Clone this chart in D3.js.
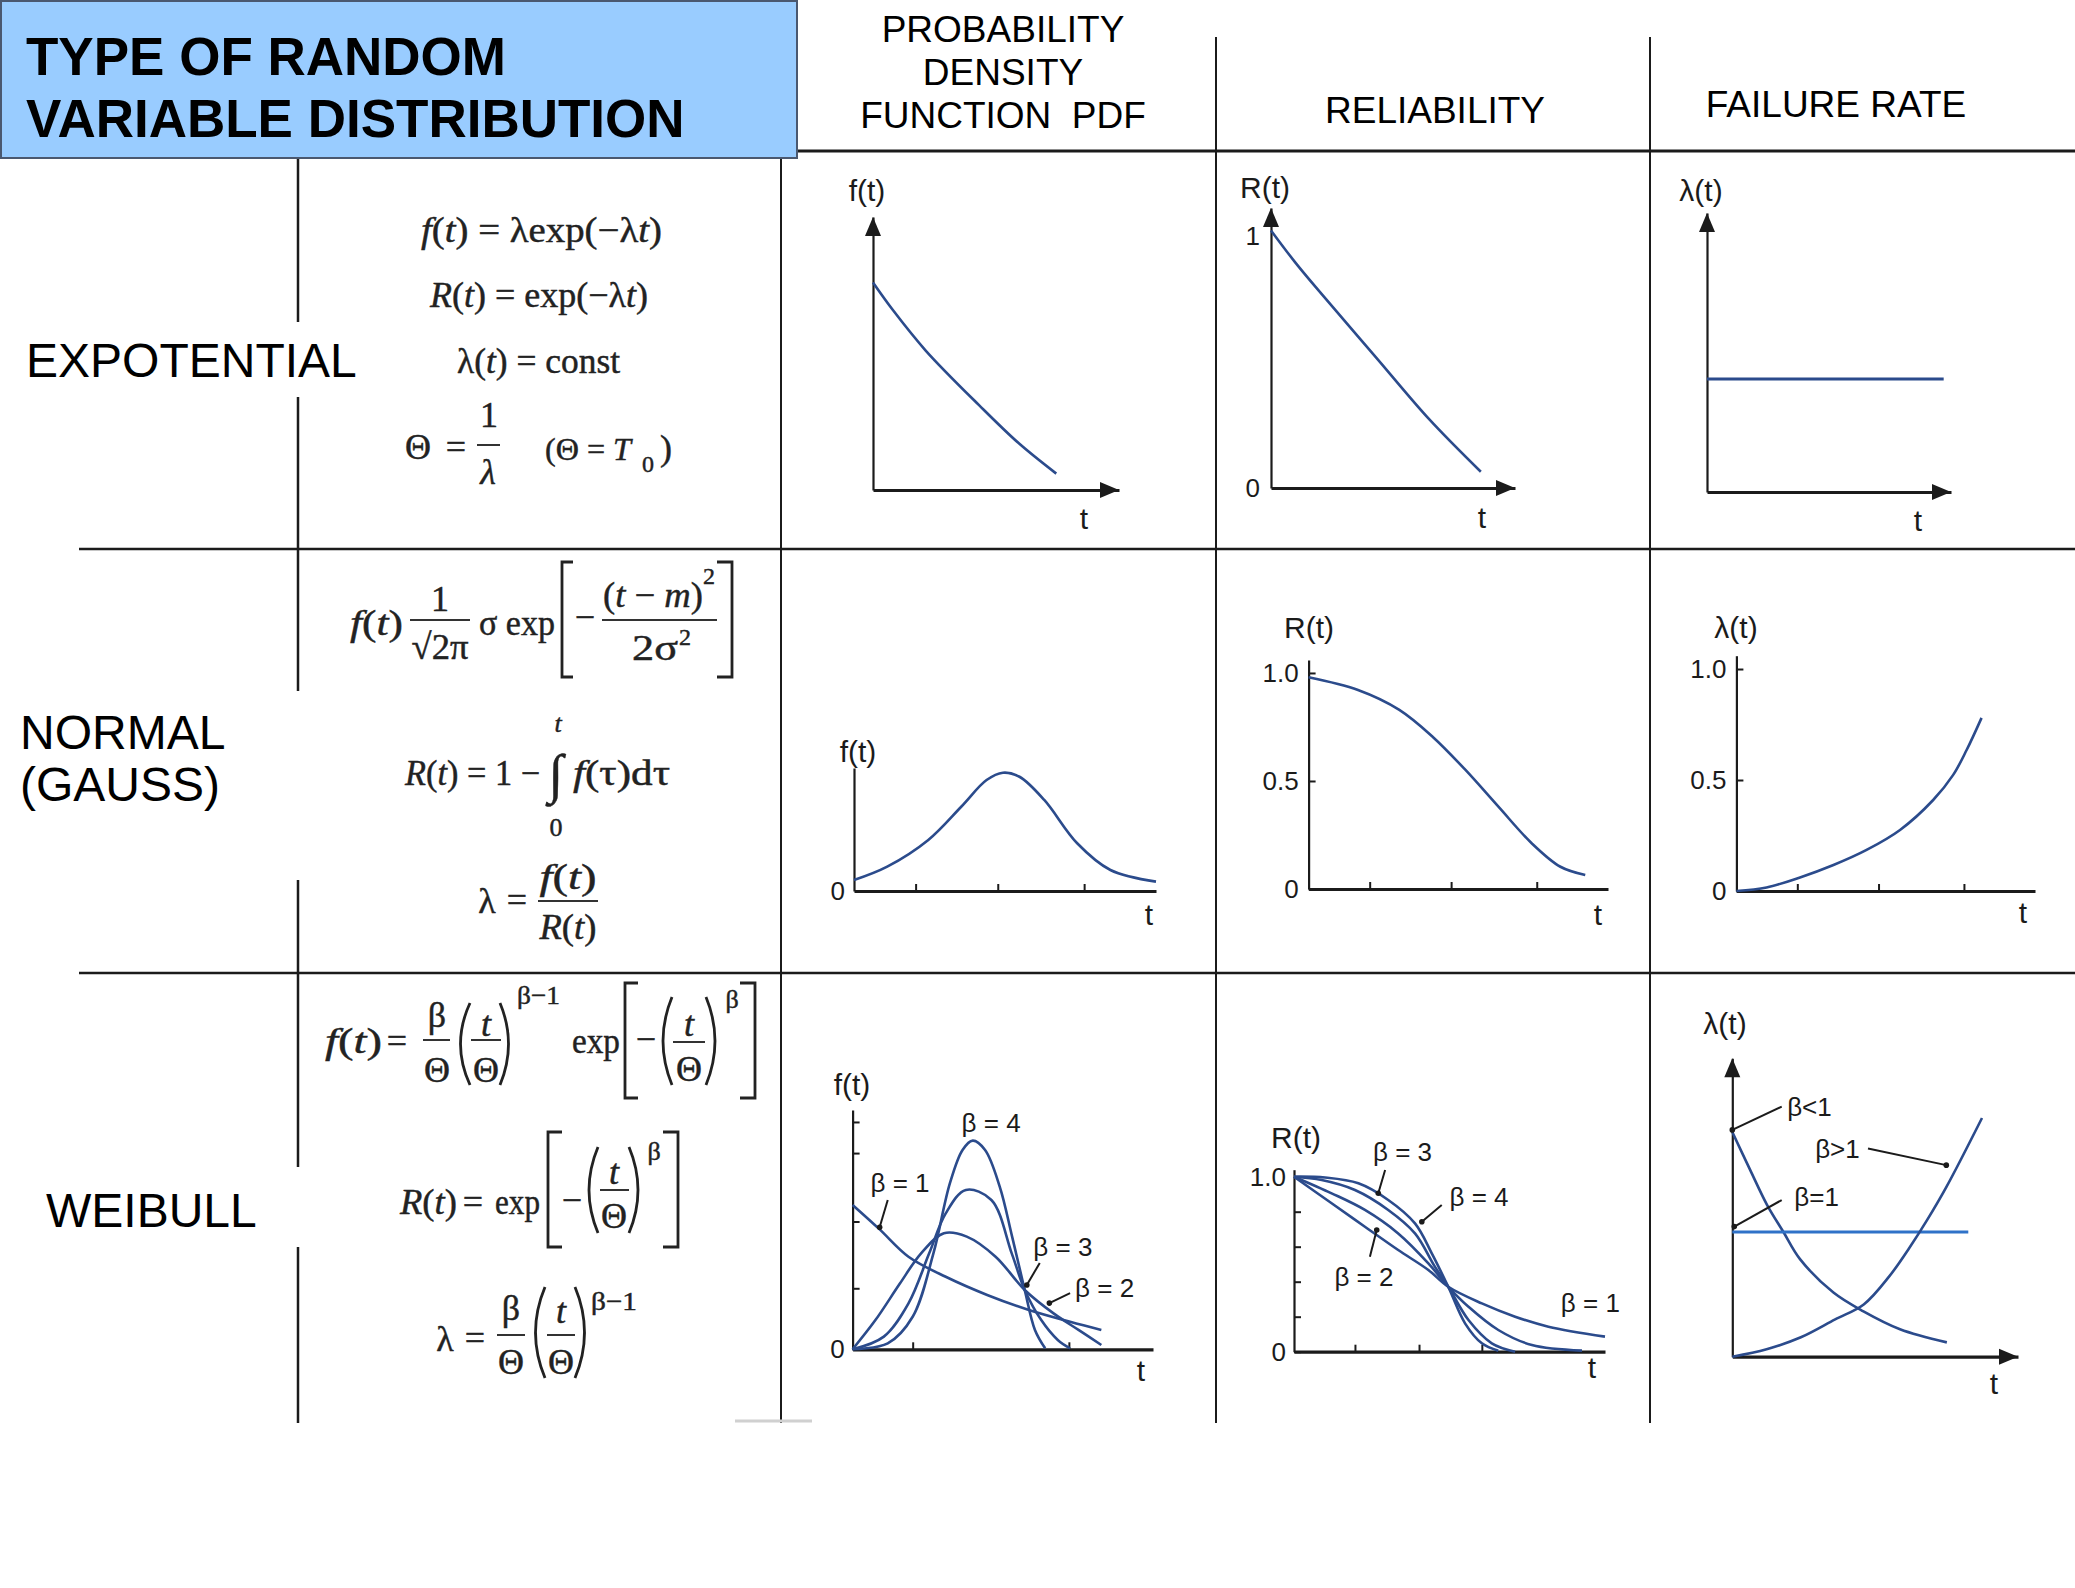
<!DOCTYPE html>
<html>
<head>
<meta charset="utf-8">
<script src="https://cdn.jsdelivr.net/npm/d3@7"></script>
<style>
  body { margin: 0; background: #fff; }
  svg { display: block; }
</style>
</head>
<body>
<svg id="chart"></svg>
<script>
// ---- text content ----
const titleLines = ["TYPE OF RANDOM", "VARIABLE DISTRIBUTION"];
const pdfHeader = ["PROBABILITY", "DENSITY", "FUNCTION  PDF"];
const relHeader = "RELIABILITY";
const rateHeader = "FAILURE RATE";
const rowNames = [["EXPOTENTIAL"], ["NORMAL", "(GAUSS)"], ["WEIBULL"]];

// ---- curve values (x = % of time axis) ----
// exponential row (y = % of value axis)
const expPdf = [[0, 76], [8, 66], [21.5, 51], [43.2, 31], [59.4, 17], [74.5, 6]];
const expRel = [[0, 92], [10, 80.5], [21.5, 68.5], [43.2, 46.5], [64.9, 24.5], [86, 5.8]];
const expRate = [[0, 40.5], [97, 40.5]];
const expRelTicks = [0, 90];
const expRelLabels = ["0", "1"];

// normal row (reliability and failure rate on a 0..1 scale)
const normPdf = [[0, 8.9], [11, 19.8], [24.6, 41.5], [35.5, 68.5], [43.9, 90.2], [49.3, 96.2],
                 [54.8, 92.9], [63, 74], [73.9, 38.8], [84.9, 17.1], [100, 7.6]];
const normRel = [[0, 0.98], [16.5, 0.921], [30.3, 0.829], [41.4, 0.705], [52.4, 0.551],
                 [63.4, 0.381], [74.5, 0.212], [84.1, 0.103], [92.4, 0.065]];
const normRate = [[0, 0], [10.1, 0.016], [21.3, 0.061], [32.5, 0.117], [43.6, 0.185], [54.8, 0.275],
                  [65.9, 0.41], [72.6, 0.523], [77.1, 0.635], [82.1, 0.78]];
const normTimeTicks = [20.4, 47.6, 76.2];
const unitTicks = [0, 0.5, 1.0];
const unitLabels = ["0", "0.5", "1.0"];

// weibull row
const weiPdf1 = [[0, 60.3], [9, 50.1], [18.6, 38.7], [31, 30.3], [44.8, 22.7], [58.7, 16.4], [72.4, 11.5], [82.8, 8.1]];
const weiPdf2 = [[0, 0], [7.6, 12.2], [15.8, 27.6], [22.8, 40.1], [30.4, 48.5], [38, 47.1], [47.6, 38.7],
                 [57.3, 24.8], [66.9, 15], [75.2, 8.1], [82.8, 1.8]];
const weiPdf3 = [[0, 0], [10.4, 5.3], [18.6, 19.2], [25.5, 40.1], [31, 56.8], [37.7, 66.6], [46.2, 62.4],
                 [53, 40], [57.3, 24.8], [62.8, 12.2], [68.3, 3.9], [72.4, 0.4]];
const weiPdf4 = [[0, 0], [11.7, 2.5], [20, 13.6], [26.9, 40.1], [32.4, 69.4], [36.6, 83.3], [40, 87.2],
                 [44.1, 83.3], [49, 67.9], [53.1, 47.1], [57.3, 24.8], [60.7, 8.1], [64.1, 0.4]];
const weiPdfYTicks = [25.5, 53.4, 82, 95];
const weiPdfXTicks = [20, 72];

const weiRel1 = [[0, 1], [12.1, 0.848], [22.8, 0.714], [33.5, 0.581], [43.2, 0.467], [49.6, 0.371],
                 [60.4, 0.276], [71.1, 0.2], [81.8, 0.143], [100, 0.086]];
const weiRel2 = [[0, 1], [12.1, 0.905], [22.8, 0.81], [33.5, 0.676], [43.2, 0.505], [49.6, 0.371],
                 [56.1, 0.257], [65.7, 0.124], [76.5, 0.038], [92.6, 0.006]];
const weiRel3 = [[0, 1], [8.9, 0.981], [19.6, 0.924], [30.3, 0.81], [38.9, 0.676], [45.3, 0.486],
                 [49.6, 0.371], [56.1, 0.181], [63.6, 0.048], [71.1, 0]];
const weiRel4 = [[0, 1], [10, 0.995], [20.7, 0.962], [30.3, 0.867], [38.9, 0.733], [44.3, 0.562],
                 [49.6, 0.371], [55, 0.162], [60.4, 0.048], [65.7, 0.006]];
const weiRelYTicks = [0, 0.2, 0.4, 0.6, 0.8, 1.0];
const weiRelYLabels = ["0", "", "", "", "", "1.0"];
const weiRelXTicks = [19.6, 40.2, 60.4];

const weiRateLow = [[0, 75.3], [6.2, 62.7], [12.1, 51], [17.9, 41.8], [23.7, 32.7], [35.4, 21.5],
                    [45.9, 15.2], [58.7, 9.2], [75.1, 4.8]];
const weiRateOne = [[0, 41.8], [82.6, 41.8]];
const weiRateHigh = [[0, 0], [12, 2.5], [24, 6.5], [36, 12.5], [46, 17.5], [55, 27], [62, 36.5],
                     [68, 45.5], [75, 57], [87.4, 80]];

// ---- page ----
const W = 2075, H = 1588;
const ink = "#1b1b1b", navy = "#2b4b8c", brightBlue = "#2f72c8";
const sans = "'Liberation Sans', Arial, sans-serif";
const serif = "'Liberation Serif', 'Times New Roman', serif";

const svg = d3.select("#chart").attr("width", W).attr("height", H);
svg.append("rect").attr("width", W).attr("height", H).attr("fill", "#fff");

// table rules
const rules = [
  [797, 151, 2075, 151, 3], [1216, 37, 1216, 1423, 2], [1650, 37, 1650, 1423, 2],
  [781, 159, 781, 1423, 2], [79, 549, 2075, 549, 2.5], [79, 973, 2075, 973, 2.5],
  [298, 159, 298, 322, 2.5], [298, 397, 298, 691, 2.5], [298, 880, 298, 1167, 2.5], [298, 1247, 298, 1423, 2.5]
];
svg.append("g").selectAll("line").data(rules).join("line")
  .attr("x1", d => d[0]).attr("y1", d => d[1]).attr("x2", d => d[2]).attr("y2", d => d[3])
  .attr("stroke", ink).attr("stroke-width", d => d[4]);
svg.append("line").attr("x1", 735).attr("x2", 812).attr("y1", 1421).attr("y2", 1421)
  .attr("stroke", "#d0d0d0").attr("stroke-width", 3);

// header box
svg.append("rect").attr("x", 1).attr("y", 1).attr("width", 796).attr("height", 157)
  .attr("fill", "#99ccff").attr("stroke", "#4a5870").attr("stroke-width", 2);
svg.append("g").selectAll("text").data(titleLines).join("text")
  .attr("x", 26).attr("y", (d, i) => 75 + i * 61.5)
  .attr("font-family", sans).attr("font-weight", "bold").attr("font-size", 53).attr("fill", "#000")
  .text(d => d);

const head = svg.append("g").attr("font-family", sans).attr("font-size", 37).attr("fill", "#000")
  .attr("text-anchor", "middle");
head.selectAll("text.pdf").data(pdfHeader).join("text").attr("class", "pdf")
  .attr("x", 1003).attr("y", (d, i) => 41.5 + i * 43.4).attr("xml:space", "preserve").text(d => d);
head.append("text").attr("x", 1435).attr("y", 123).text(relHeader);
head.append("text").attr("x", 1836).attr("y", 117).text(rateHeader);

// row names
const rowPos = [[[26, 377]], [[20, 749], [20, 801]], [[46, 1227]]];
const rows = svg.append("g").attr("font-family", sans).attr("font-size", 48).attr("fill", "#000");
rowNames.forEach((lines, r) => lines.forEach((s, i) => {
  rows.append("text").attr("x", rowPos[r][i][0]).attr("y", rowPos[r][i][1]).text(s);
}));

// ---- formulas ----
const fx = svg.append("g").attr("font-family", serif).attr("fill", "#222")
  .attr("stroke", "#222").attr("stroke-width", 0.45);
// "_x_" marks italic runs
function t(x, y, str, o = {}) {
  const el = fx.append("text").attr("x", x).attr("y", y)
    .attr("font-size", o.size || 36).attr("text-anchor", o.anchor || "start")
    .attr("xml:space", "preserve");
  str.split("_").forEach((part, i) => {
    if (part) el.append("tspan").attr("font-style", i % 2 ? "italic" : "normal").text(part);
  });
  if (o.len) el.attr("textLength", o.len).attr("lengthAdjust", "spacingAndGlyphs");
}
function bar(x1, x2, y) {
  fx.append("line").attr("x1", x1).attr("x2", x2).attr("y1", y).attr("y2", y)
    .attr("stroke", "#333").attr("stroke-width", 2);
}
function delim(kind, x0, x1, top, bot) {
  const m = (top + bot) / 2;
  const d = {
    "[": `M${x1},${top}H${x0}V${bot}H${x1}`,
    "]": `M${x0},${top}H${x1}V${bot}H${x0}`,
    "(": `M${x1},${top}Q${x0 - 4},${m} ${x1},${bot}`,
    ")": `M${x0},${top}Q${x1 + 4},${m} ${x0},${bot}`
  }[kind];
  fx.append("path").attr("d", d).attr("fill", "none").attr("stroke", "#222").attr("stroke-width", 2.8);
}
const mid = { anchor: "middle" };

// exponential
t(421, 242, "_f_(_t_) = λexp(−λ_t_)", { len: 241 });
t(430, 307, "_R_(_t_) = exp(−λ_t_)", { len: 218 });
t(457, 373, "λ(_t_) = const", { len: 163 });
t(418, 459, "Θ", mid); t(456, 459, "=", mid);
t(489, 427, "1", mid); bar(477, 500, 445); t(488, 484, "_λ_", mid);
t(545, 460, "(Θ = _T_", { len: 86, size: 32 }); t(648, 472, "0", { anchor: "middle", size: 24 }); t(666, 460, ")", mid);

// normal
t(350, 635, "_f_(_t_)", { len: 53 });
t(440, 611, "1", mid); bar(410, 470, 620); t(440, 659, "√2π", { anchor: "middle", len: 57 });
t(479, 635, "σ exp", { len: 76 });
delim("[", 562, 573, 562, 677);
t(585, 629, "−", mid);
t(603, 607, "(_t_ − _m_)", { len: 100 }); t(709, 584, "2", { anchor: "middle", size: 24 });
bar(602, 717, 620);
t(632, 660, "2σ", { len: 46 }); t(685, 645, "2", { anchor: "middle", size: 24 });
delim("]", 717, 732, 562, 677);
t(405, 785, "_R_(_t_) = 1 −", { len: 135 });
t(556, 792, "∫", { anchor: "middle", size: 54 });
t(558, 732, "_t_", { anchor: "middle", size: 26 });
t(556, 836, "0", { anchor: "middle", size: 26 });
t(573, 785, "_f_(τ)dτ", { len: 97 });
t(487, 913, "λ", mid); t(517, 912, "=", mid);
t(568, 889, "_f_(_t_)", { anchor: "middle", len: 57 }); bar(538, 598, 901);
t(568, 939, "_R_(_t_)", { anchor: "middle", len: 57 });

// weibull
t(325, 1053, "_f_(_t_)", { len: 57 }); t(397, 1053, "=", mid);
t(437, 1027, "β", mid); bar(423, 450, 1040); t(437, 1082, "Θ", mid);
delim("(", 455, 470, 1003, 1085);
t(486, 1036, "_t_", mid); bar(471, 501, 1040); t(486, 1082, "Θ", mid);
delim(")", 500, 513, 1003, 1085);
t(517, 1004, "β−1", { size: 26, len: 43 });
t(572, 1053, "exp", { len: 48 });
delim("[", 625, 638, 983, 1098);
t(646, 1051, "−", mid);
delim("(", 658, 672, 997, 1085);
t(689, 1036, "_t_", mid); bar(673, 705, 1042); t(689, 1081, "Θ", mid);
delim(")", 706, 720, 997, 1085);
t(732, 1008, "β", { anchor: "middle", size: 26 });
delim("]", 740, 755, 983, 1098);

t(400, 1214, "_R_(_t_)", { len: 57 }); t(473, 1214, "=", mid);
t(495, 1214, "exp", { len: 45 });
delim("[", 548, 562, 1132, 1247);
t(572, 1212, "−", mid);
delim("(", 584, 598, 1147, 1233);
t(614, 1184, "_t_", mid); bar(600, 629, 1190); t(614, 1228, "Θ", mid);
delim(")", 629, 643, 1147, 1233);
t(654, 1160, "β", { anchor: "middle", size: 26 });
delim("]", 663, 678, 1132, 1247);

t(445, 1351, "λ", mid); t(475, 1350, "=", mid);
t(511, 1320, "β", mid); bar(497, 525, 1335); t(511, 1374, "Θ", mid);
delim("(", 530, 545, 1287, 1378);
t(561, 1323, "_t_", mid); bar(547, 575, 1335); t(561, 1374, "Θ", mid);
delim(")", 575, 590, 1287, 1378);
t(591, 1310, "β−1", { size: 26, len: 46 });

// ---- small plots ----
function drawPanel(p) {
  const x = d3.scaleLinear().domain(p.xDomain).range([p.ox, p.xEnd]);
  const y = d3.scaleLinear().domain(p.yDomain).range([p.oy, p.yEnd]);
  const g = svg.append("g");

  g.append("g").attr("transform", `translate(0,${p.oy})`)
    .call(d3.axisBottom(x).tickValues(p.xTicks || []).tickSize(-7).tickSizeOuter(0).tickFormat(""))
    .call(a => a.select(".domain").attr("stroke", ink).attr("stroke-width", p.xw || 3.2))
    .call(a => a.selectAll(".tick line").attr("stroke", ink).attr("stroke-width", 2));

  g.append("g").attr("transform", `translate(${p.ox},0)`)
    .call(d3.axisLeft(y).tickValues(p.yTicks || []).tickSize(p.yTickLen ?? -7).tickSizeOuter(0)
      .tickPadding(p.yPad || 9).tickFormat((d, i) => p.yLabels ? p.yLabels[i] : ""))
    .call(a => a.select(".domain").attr("stroke", ink).attr("stroke-width", 2.2))
    .call(a => a.selectAll(".tick line").attr("stroke", ink).attr("stroke-width", 2))
    .call(a => a.selectAll(".tick text").attr("font-family", sans).attr("font-size", 26).attr("fill", ink));

  if (p.arrows) {
    const xe = x(p.xDomain[1]), ye = y(p.yDomain[1]);
    g.append("path").attr("d", `M${xe},${p.oy}l-19,-8v16z`).attr("fill", ink);
    g.append("path").attr("d", `M${p.ox},${ye}l-8,19h16z`).attr("fill", ink);
  }

  p.series.forEach(s => {
    const line = d3.line().x(d => x(d[0])).y(d => y(d[1]))
      .curve(s.values.length > 2 ? d3.curveCatmullRom.alpha(0.5) : d3.curveLinear);
    g.append("path").datum(s.values).attr("d", line)
      .attr("fill", "none").attr("stroke", s.color || navy).attr("stroke-width", s.width || 2.6);
  });

  (p.notes || []).forEach(n => {
    if (n.leader) {
      g.append("line")
        .attr("x1", x(n.leader[0][0])).attr("y1", y(n.leader[0][1]))
        .attr("x2", x(n.leader[1][0])).attr("y2", y(n.leader[1][1]))
        .attr("stroke", ink).attr("stroke-width", 2);
      g.append("circle").attr("cx", x(n.leader[1][0])).attr("cy", y(n.leader[1][1]))
        .attr("r", 2.8).attr("fill", ink);
    }
    g.append("text").attr("x", x(n.at[0])).attr("y", y(n.at[1])).attr("dy", "0.35em")
      .attr("text-anchor", "middle").attr("font-family", sans).attr("font-size", 26)
      .attr("fill", ink).attr("xml:space", "preserve").text(n.text);
  });

  p.names.forEach(n => {
    g.append("text").attr("x", n[1]).attr("y", n[2]).attr("text-anchor", "middle")
      .attr("font-family", sans).attr("font-size", n[3] || 30).attr("fill", ink).text(n[0]);
  });
}

const pct = [0, 100];
const panels = [
  { ox: 873, oy: 490, xEnd: 1119, yEnd: 217, xDomain: pct, yDomain: pct, arrows: true,
    series: [{ values: expPdf }],
    names: [["f(t)", 867, 201], ["t", 1084, 529]] },
  { ox: 1271, oy: 488, xEnd: 1515, yEnd: 208, xDomain: pct, yDomain: pct, arrows: true,
    yTicks: expRelTicks, yLabels: expRelLabels, yTickLen: 0, yPad: 11,
    series: [{ values: expRel }],
    names: [["R(t)", 1265, 198], ["t", 1482, 528]] },
  { ox: 1707, oy: 492, xEnd: 1951, yEnd: 213, xDomain: pct, yDomain: pct, arrows: true,
    series: [{ values: expRate, width: 3.2 }],
    names: [["λ(t)", 1701, 201], ["t", 1918, 531]] },

  { ox: 854, oy: 891, xEnd: 1156, yEnd: 768, xDomain: pct, yDomain: pct,
    xTicks: normTimeTicks, yTicks: [0], yLabels: ["0"], yTickLen: 0, yPad: 9,
    series: [{ values: normPdf }],
    names: [["f(t)", 858, 762], ["t", 1149, 925]] },
  { ox: 1308.6, oy: 889, xEnd: 1608, yEnd: 660, xDomain: pct, yDomain: [0, 1.06],
    xTicks: normTimeTicks, yTicks: unitTicks, yLabels: unitLabels, yPad: 10,
    series: [{ values: normRel }],
    names: [["R(t)", 1309, 638], ["t", 1598, 925]] },
  { ox: 1736.4, oy: 891, xEnd: 2035, yEnd: 655.7, xDomain: pct, yDomain: [0, 1.06],
    xTicks: normTimeTicks, yTicks: unitTicks, yLabels: unitLabels, yPad: 10,
    series: [{ values: normRate }],
    names: [["λ(t)", 1736, 638], ["t", 2023, 923]] },

  { ox: 852.6, oy: 1349.3, xEnd: 1153, yEnd: 1110, xDomain: pct, yDomain: pct,
    xTicks: weiPdfXTicks, yTicks: [0].concat(weiPdfYTicks), yLabels: ["0", "", "", "", ""], yPad: 8,
    series: [{ values: weiPdf1 }, { values: weiPdf2 }, { values: weiPdf3 }, { values: weiPdf4 }],
    notes: [
      { text: "β = 4", at: [46.1, 94.6] },
      { text: "β = 1", at: [15.8, 69.4], leader: [[11.7, 62.4], [9.0, 51]] },
      { text: "β = 3", at: [70, 42.6], leader: [[62.3, 36.1], [58.0, 26.9]] },
      { text: "β = 2", at: [83.9, 25.6], leader: [[72.4, 23.5], [65.5, 19.3]] }
    ],
    names: [["f(t)", 852, 1095], ["t", 1141, 1381]] },
  { ox: 1294, oy: 1351.7, xEnd: 1605, yEnd: 1169.7, xDomain: pct, yDomain: [0, 1.04],
    xTicks: weiRelXTicks, yTicks: weiRelYTicks, yLabels: weiRelYLabels, yPad: 8,
    series: [{ values: weiRel1 }, { values: weiRel2 }, { values: weiRel3 }, { values: weiRel4 }],
    notes: [
      { text: "β = 3", at: [34.9, 1.143], leader: [[29.3, 1.038], [27.1, 0.905]] },
      { text: "β = 4", at: [59.5, 0.886], leader: [[47.5, 0.838], [41.1, 0.743]] },
      { text: "β = 2", at: [22.5, 0.429], leader: [[24.4, 0.543], [26.6, 0.695]] },
      { text: "β = 1", at: [95.3, 0.278] }
    ],
    names: [["R(t)", 1296, 1148], ["t", 1592, 1378]] },
  { ox: 1732.3, oy: 1356.7, xEnd: 2018, yEnd: 1058.3, xDomain: pct, yDomain: pct, arrows: true,
    series: [{ values: weiRateLow }, { values: weiRateOne, color: brightBlue, width: 3 }, { values: weiRateHigh }],
    notes: [
      { text: "β<1", at: [27.0, 83.8], leader: [[17.3, 83.8], [0, 76.0]] },
      { text: "β>1", at: [36.8, 69.8], leader: [[47.5, 69.8], [74.9, 64.2]] },
      { text: "β=1", at: [29.5, 53.6], leader: [[17.3, 52.5], [0.7, 43.6]] }
    ],
    names: [["λ(t)", 1725, 1034], ["t", 1994, 1394]] }
];
panels.forEach(drawPanel);
</script>
</body>
</html>
